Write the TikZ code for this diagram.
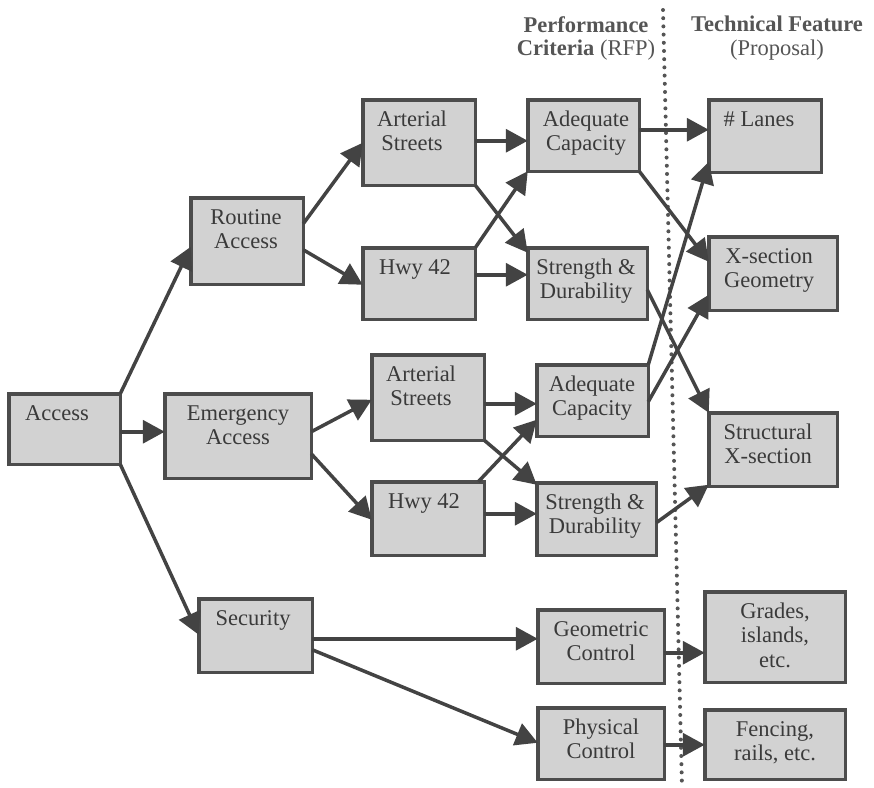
\documentclass[tikz,border=0pt]{standalone}
\usepackage{fontspec}
\setmainfont{Liberation Serif}[Ligatures=TeX]
\newfontfamily\labelfont{Liberation Serif}[Ligatures=TeX]
\usetikzlibrary{arrows.meta}

\definecolor{boxfill}{HTML}{D2D2D2}
\definecolor{boxline}{HTML}{4C4C4C}
\definecolor{inkgray}{HTML}{3A3A3A}
\definecolor{arrowgray}{HTML}{434343}
\definecolor{headgray}{HTML}{555555}

\tikzset{
  fbox/.style={draw=boxline, fill=boxfill, line width=3.5pt, inner sep=0pt, outer sep=0pt},
  ftext/.style={anchor=north, inner sep=0pt, align=center, text=inkgray,
    font=\labelfont\fontsize{22.5}{24.5}\selectfont},
  hdr/.style={anchor=north, inner sep=0pt, align=center, text=headgray,
    font=\labelfont\fontsize{22.5}{22}\selectfont},
  link/.style={draw=arrowgray, line width=3.5pt,
    -{Triangle[length=22pt,width=23pt]}},
  divider/.style={draw=headgray, line width=4pt, line cap=round,
    dash pattern=on 0pt off 8.2pt}
}

% box: name, left, top, right, bottom, text centre x, text
\newcommand\flowbox[7]{%
  \node[fbox, minimum width={#4-#2-3.5}, minimum height={#5-#3-3.5}]
    (#1) at ({(#2+#4)/2},{(#3+#5)/2}) {};
  \node[ftext] (#1-t) at (#6,{#3+11}) {\strut #7};
}

\begin{document}
\begin{tikzpicture}[x=1pt,y=-1pt]
\useasboundingbox (0,0) rectangle (874,787);

% boundary between criteria and proposal features
\draw[divider] (663,10) -- (682,787);

% column headings
\node[hdr] (hperf) at (586,16) {\strut\textbf{Performance}\\\textbf{Criteria} (RFP)};
\node[hdr] (htech) at (777,16) {\strut\textbf{Technical Feature}\\(Proposal)};

% functions
\flowbox{acc}{7}{392}{122}{466}{57}{Access}
\flowbox{ra}{189}{196}{305}{286}{246}{Routine\\Access}
\flowbox{ea}{163}{392}{313}{480}{238}{Emergency\\Access}
\flowbox{sec}{197}{597}{314}{674}{253}{Security}

% facilities
\flowbox{at}{361}{98}{477}{187}{412}{Arterial\\Streets}
\flowbox{ht}{361}{246}{477}{321}{415}{Hwy 42}
\flowbox{am}{370}{353}{486}{442}{421}{Arterial\\Streets}
\flowbox{hm}{370}{480}{486}{557}{424}{Hwy 42}

% performance criteria
\flowbox{ct}{526}{98}{641}{173}{586}{Adequate\\Capacity}
\flowbox{st}{526}{246}{649}{321}{586}{Strength \&\\Durability}
\flowbox{cm}{535}{363}{650}{438}{592}{Adequate\\Capacity}
\flowbox{sm}{535}{481}{658}{557}{595}{Strength \&\\Durability}
\flowbox{gc}{536}{608}{666}{685}{601}{Geometric\\Control}
\flowbox{pc}{536}{706}{666}{781}{601}{Physical\\Control}

% technical features
\flowbox{ln}{707}{98}{823}{174}{759}{\# Lanes}
\flowbox{xg}{707}{235}{839}{312}{769}{X-section\\Geometry}
\flowbox{sx}{707}{411}{839}{488}{768}{Structural\\X-section}
\flowbox{gr}{703}{590}{847}{684}{775}{Grades,\\islands,\\etc.}
\flowbox{fe}{703}{708}{847}{781}{775}{Fencing,\\rails, etc.}

% access breakdown
\draw[link] (acc.north east) -- ([yshift=-49pt]ra.north west);
\draw[link] ([yshift=-38pt]acc.north east) -- ([yshift=-38pt]ea.north west);
\draw[link] (acc.south east) -- ([yshift=-36pt]sec.north west);

% routine access
\draw[link] ([yshift=-26pt]ra.north east) -- ([yshift=-43pt]at.north west);
\draw[link] ([yshift=-52pt]ra.north east) -- ([yshift=-37pt]ht.north west);
\draw[link] ([yshift=-41pt]at.north east) -- ([yshift=-41pt]ct.north west);
\draw[link] (at.south east) -- ([yshift=-5pt]st.north west);
\draw[link] (ht.north east) -- (ct.south west);
\draw[link] ([yshift=-27pt]ht.north east) -- ([yshift=-27pt]st.north west);

% emergency access
\draw[link] ([yshift=-38pt]ea.north east) -- ([yshift=-45pt]am.north west);
\draw[link] ([yshift=-60pt]ea.north east) -- ([yshift=-38pt]hm.north west);
\draw[link] ([yshift=-49pt]am.north east) -- ([yshift=-39pt]cm.north west);
\draw[link] (am.south east) -- ([yshift=-2pt]sm.north west);
\draw[link] ([xshift=-6pt]hm.north east) -- ([yshift=-55pt]cm.north west);
\draw[link] ([yshift=-32pt]hm.north east) -- ([yshift=-31pt]sm.north west);

% criteria to features
\draw[link] ([yshift=-30pt]ct.north east) -- ([yshift=-30pt]ln.north west);
\draw[link] (ct.south east) -- ([yshift=-25pt]xg.north west);
\draw[link] ([yshift=-42pt]st.north east) -- (sx.north west);
\draw[link] (cm.north east) -- ([yshift=-62pt]ln.north west);
\draw[link] ([yshift=-37pt]cm.north east) -- ([yshift=-58pt]xg.north west);
\draw[link] ([yshift=-40pt]sm.north east) -- ([yshift=-72pt]sx.north west);

% security
\draw[link] ([yshift=-40pt]sec.north east) -- ([yshift=-29pt]gc.north west);
\draw[link] ([yshift=-51pt]sec.north east) -- ([yshift=-35pt]pc.north west);
\draw[link] ([yshift=-43pt]gc.north east) -- ([yshift=-61pt]gr.north west);
\draw[link] ([yshift=-37pt]pc.north east) -- ([yshift=-35pt]fe.north west);
\end{tikzpicture}
\end{document}
